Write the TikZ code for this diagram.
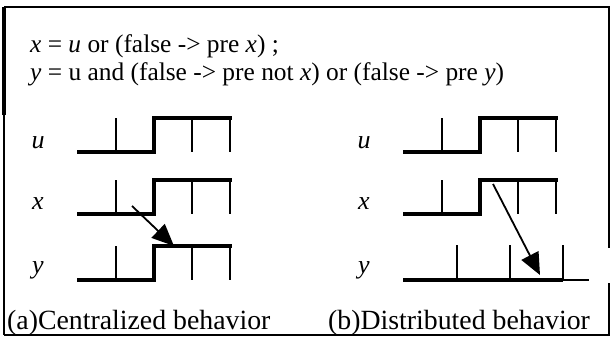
\documentclass[tikz,border=0pt]{standalone}
\usepackage{fontspec}
\setmainfont{Liberation Serif}
\usetikzlibrary{arrows.meta}

\begin{document}
\begin{tikzpicture}[x=1pt,y=-1pt,font=\fontsize{25.4}{30}\selectfont,
    wave/.style={line width=4pt},
    tickline/.style={line width=2pt},
    frame/.style={line width=2.5pt},
    causal/.style={line width=1.8pt,-{Triangle[length=22pt,width=19pt]}},
    sig/.style={anchor=base,inner sep=0pt,font=\fontsize{26}{30}\selectfont\itshape},
    txt/.style={anchor=base west,inner sep=0pt},
    captext/.style={anchor=base west,inner sep=0pt,font=\fontsize{27.8}{32}\selectfont}]
            \useasboundingbox (0,0) rectangle (611,341);
            % frame
            \draw[frame] (4,335) -- (4,115);
            \draw[line width=4pt] (4,115) -- (4,7);
            \draw[frame] (4,7) -- (609,7) -- (609,248);
            \draw[frame] (609,283) -- (609,335) -- (4,335);
            % equations
            \node[txt] (eqx) at (30,52) {\textit{x} = \textit{u} or (false -> pre \textit{x}) ;};
            \node[txt] (eqy) at (30,80) {\textit{y} = u and (false -> pre not \textit{x}) or (false -> pre \textit{y})};
            % (a) centralized
            \foreach \yt in {118,180,246}{
                \draw[wave] (77,\yt+34) -- (154,\yt+34) -- (154,\yt) -- (232,\yt);
                \foreach \t in {116,192,230} \draw[tickline] (\t,\yt) -- (\t,\yt+34);
            }
            \node[sig] (ua) at (38,148) {u};
            \node[sig] (xa) at (38,209) {x};
            \node[sig] (ya) at (38,273) {y};
            \coordinate (fromxa) at (132,206);
            \coordinate (toya) at (174,246);
            \draw[causal] (fromxa) -- (toya);
            % (b) distributed
            \pgfmathsetmacro{\h}{326};
            \foreach \yt in {118,180}{
                \draw[wave] (\h+77,\yt+34) -- (\h+154,\yt+34) -- (\h+154,\yt) -- (\h+232,\yt);
                \foreach \t in {116,192,230} \draw[tickline] (\h+\t,\yt) -- (\h+\t,\yt+34);
            }
            \draw[wave] (\h+77,280) -- (\h+237,280);
            \draw[tickline] (\h+237,280) -- (\h+263,280);
            \foreach \t in {131,184,237} \draw[tickline] (\h+\t,245) -- (\h+\t,280);
            \node[sig] (ub) at (\h+38,148) {u};
            \node[sig] (xb) at (\h+38,209) {x};
            \node[sig] (yb) at (\h+38,273) {y};
            \coordinate (fromxb) at (493,184);
            \coordinate (toyb) at (540,275);
            \draw[causal] (fromxb) -- (toyb);
            % captions
            \node[captext] (capa) at (7,329) {(a)Centralized behavior};
            \node[captext] (capb) at (328,329) {(b)Distributed behavior};
        \end{tikzpicture}
\end{document}
